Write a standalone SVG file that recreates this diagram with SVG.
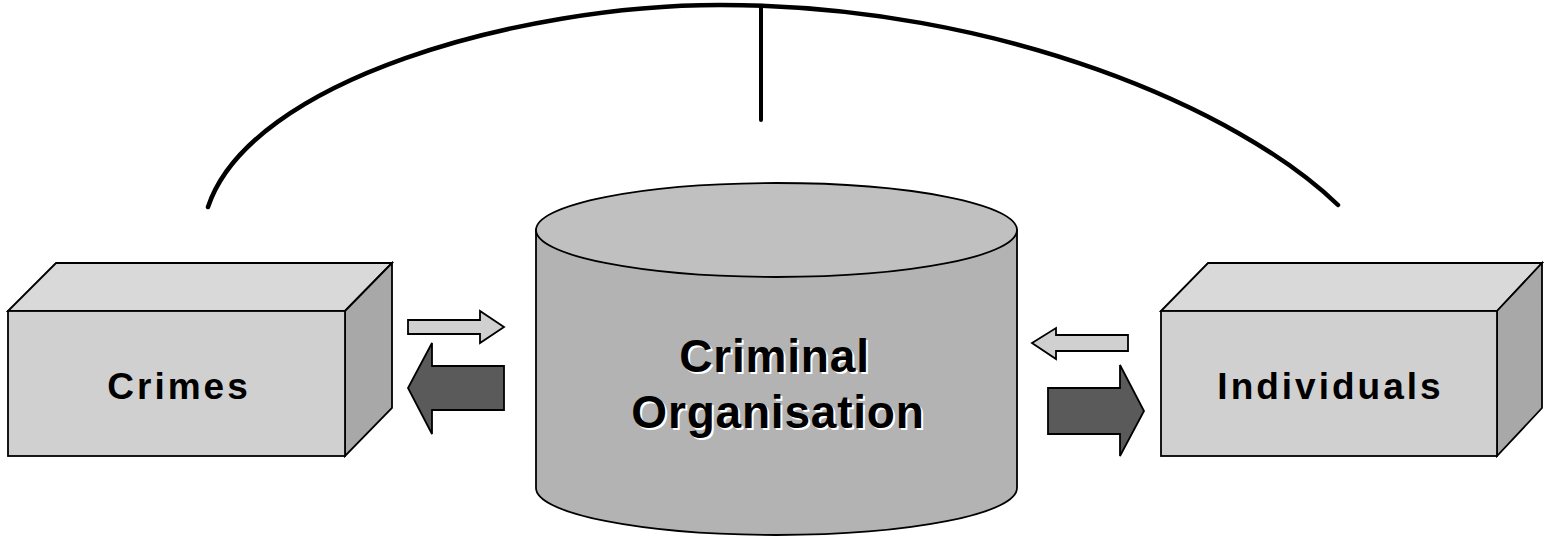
<svg xmlns="http://www.w3.org/2000/svg" width="1544" height="542" viewBox="0 0 1544 542">
  <style>
    .edge { stroke: #000; stroke-width: 1.8; stroke-linejoin: miter; }
    .front { fill: #d0d0d0; }
    .top { fill: #d9d9d9; }
    .side { fill: #a8a8a8; }
    .cyl-side { fill: #b3b3b3; }
    .cyl-top { fill: #c0c0c0; }
    .light { fill: #d0d0d0; }
    .dark { fill: #5a5a5a; }
    .lbl { font-family: "Liberation Sans", Arial, sans-serif; font-weight: bold; fill: #000; text-anchor: middle; }
    .box-lbl { font-size: 37px; letter-spacing: 3px; }
    .cyl-lbl { font-size: 46px; letter-spacing: 0.8px; }
    .shadow { fill: #fff; }
    .conn { fill: none; stroke: #000; stroke-width: 4.5; stroke-linecap: round; }
  </style>
  <rect width="1544" height="542" fill="#fff"/>

  <g id="connectors">
    <path class="conn" d="M208,207 C250,80 520,5 720,5 C1000,5 1240,110 1338,205"/>
    <line class="conn" x1="761" y1="7" x2="761" y2="120" style="stroke-width:4"/>
    <polygon class="light edge" points="408,320 480,320 480,311 504,327 480,343 480,334 408,334"/>
    <polygon class="dark edge" points="504,366 432,366 432,343 408,388 432,434 432,410 504,410"/>
    <polygon class="light edge" points="1128,335 1056,335 1056,328 1032,343 1056,359 1056,351 1128,351"/>
    <polygon class="dark edge" points="1048,388 1120,388 1120,365 1144,411 1120,456 1120,434 1048,434"/>
  </g>

  <g id="crimes">
    <polygon class="top edge" points="8,311 56,263 392,263 345,311"/>
    <polygon class="side edge" points="345,311 392,263 392,408 345,456"/>
    <rect class="front edge" x="8" y="311" width="337" height="145"/>
    <text class="lbl box-lbl" x="179" y="399">Crimes</text>
  </g>

  <g id="criminal-organisation">
    <path class="cyl-side edge" d="M536,230 L536,488 A240.5,47 0 0 0 1017,488 L1017,230 Z"/>
    <ellipse class="cyl-top edge" cx="776.5" cy="230" rx="240.5" ry="47"/>
    <text class="lbl cyl-lbl shadow" x="776.5" y="374">Criminal</text>
    <text class="lbl cyl-lbl" x="774.5" y="372">Criminal</text>
    <text class="lbl cyl-lbl shadow" x="780" y="430">Organisation</text>
    <text class="lbl cyl-lbl" x="778" y="428">Organisation</text>
  </g>

  <g id="individuals">
    <polygon class="top edge" points="1161,311 1208,263 1542,263 1497,311"/>
    <polygon class="side edge" points="1497,311 1542,263 1542,408 1497,456"/>
    <rect class="front edge" x="1161" y="311" width="336" height="145"/>
    <text class="lbl box-lbl" x="1330.5" y="399">Individuals</text>
  </g>
</svg>
